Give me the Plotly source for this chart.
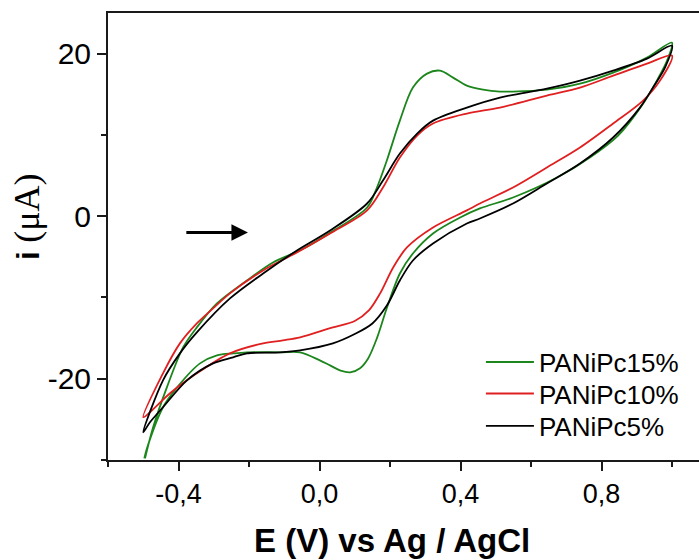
import plotly.graph_objects as go

# ---------------- data ----------------
# PANiPc15% (green): forward scan then reverse scan
E_15 = [-0.495, -0.472, -0.433, -0.387, -0.348, -0.291, -0.206, -0.132, -0.055, 0.035,
        0.135, 0.163, 0.191, 0.228, 0.265, 0.305, 0.342, 0.379, 0.418, 0.464,
        0.512, 0.549, 0.645, 0.739, 0.833, 0.929, 1.0,
        0.986, 0.957, 0.918, 0.847, 0.767, 0.674, 0.549, 0.455, 0.399, 0.322,
        0.265, 0.228, 0.191, 0.163, 0.138, 0.115, 0.087, 0.060, 0.030, 0.001,
        -0.055, -0.112, -0.206, -0.245, -0.291, -0.339, -0.404, -0.444, -0.489, -0.497]
I_15 = [-29.8, -25.97, -21.06, -16.14, -13.68, -10.73, -7.91, -5.69, -4.2, -1.9,
        1.07, 3.53, 6.85, 11.76, 15.82, 17.54, 17.91, 17.05, 16.06, 15.57,
        15.33, 15.33, 15.57, 16.30, 17.66, 19.51, 21.35,
        19.14, 16.68, 13.85, 9.92, 7.22, 4.76, 2.30, 0.95, -0.16, -2.13,
        -4.59, -7.05, -11.3, -15.0, -17.5, -18.7, -19.21, -19.0, -18.36, -17.74,
        -16.75, -16.75, -16.75, -16.88, -17.12, -18.11, -21.06, -23.51, -28.5, -29.8]

# PANiPc10% (red)
E_10 = [-0.50, -0.444, -0.396, -0.348, -0.302, -0.254, -0.160, -0.064, 0.030, 0.135,
        0.180, 0.228, 0.277, 0.322, 0.418, 0.512, 0.645, 0.739, 0.833, 0.929, 1.0,
        0.966, 0.918, 0.833, 0.739, 0.645, 0.549, 0.455, 0.418, 0.322, 0.248,
        0.209, 0.172, 0.140, 0.100, 0.038, -0.055, -0.104, -0.160, -0.254, -0.348, -0.424,
        -0.475, -0.50]
I_10 = [-24.74, -19.34, -15.65, -13.19, -11.35, -9.50, -6.68, -4.46, -2.13, 0.71,
        3.53, 7.22, 9.92, 11.40, 12.62, 13.36, 14.84, 15.82, 17.29, 18.77, 19.75,
        16.68, 14.22, 11.40, 8.45, 5.99, 3.53, 1.56, 0.71, -1.39, -3.85,
        -6.31, -9.50, -11.6, -12.9, -13.68, -14.91, -15.28, -15.65, -16.88, -19.34, -21.79,
        -23.88, -24.74]

# PANiPc5% (black)
E_5 = [-0.50, -0.444, -0.396, -0.348, -0.254, -0.160, -0.064, 0.030, 0.135, 0.180,
       0.228, 0.277, 0.322, 0.418, 0.512, 0.645, 0.739, 0.833, 0.929, 1.0,
       0.980, 0.946, 0.909, 0.833, 0.739, 0.645, 0.549, 0.455, 0.418, 0.322,
       0.265, 0.228, 0.191, 0.150, 0.100, 0.038, -0.055, -0.112, -0.206, -0.245,
       -0.302, -0.376, -0.444, -0.481, -0.50]
I_5 = [-26.59, -20.20, -16.88, -14.30, -10.12, -7.05, -4.22, -1.76, 1.56, 4.39,
       7.71, 10.17, 11.76, 13.36, 14.59, 15.70, 16.68, 17.91, 19.39, 20.98,
       18.28, 15.82, 13.36, 9.68, 6.48, 4.02, 1.56, -0.28, -0.90, -3.36,
       -5.45, -7.91, -11.0, -13.2, -14.5, -15.65, -16.51, -16.75, -16.88, -17.37,
       -18.11, -20.20, -23.51, -25.36, -26.59]

series_names = ["PANiPc15%", "PANiPc10%", "PANiPc5%"]
series_colors = ["#1c861c", "#e02020", "#000000"]

x_tickvals = [-0.4, 0.0, 0.4, 0.8]
x_ticktext = ["-0,4", "0,0", "0,4", "0,8"]
x_minor = [-0.6, -0.2, 0.2, 0.6, 1.0]
y_tickvals = [-20, 0, 20]
y_ticktext = ["-20", "0", "20"]
y_minor = [-30, -10, 10]

arrow_E = [-0.382, -0.203]   # tail, head
arrow_I = -2.0

# ---------------- figure ----------------
FONT = "Liberation Sans, Arial, sans-serif"
AX = "#1a1a1a"

legend_ids = ["legend", "legend2", "legend3"]
legend_rows_y = [0.2190, 0.1485, 0.0761]

fig = go.Figure()
for E, I, name, col, lg in zip([E_15, E_10, E_5], [I_15, I_10, I_5],
                               series_names, series_colors, legend_ids):
    fig.add_trace(go.Scatter(x=E, y=I, mode="lines", name=name, legend=lg,
                             line=dict(color=col, width=1.8, shape="spline", smoothing=0.9)))

leg_common = dict(x=0.631, xanchor="left", yanchor="middle",
                  font=dict(size=26, family=FONT, color="black"),
                  bgcolor="rgba(0,0,0,0)", itemwidth=48)

fig.update_layout(
    width=699, height=560,
    margin=dict(l=108, r=0, t=13, b=100),
    paper_bgcolor="white", plot_bgcolor="white",
    font=dict(family=FONT, color="black"),
    showlegend=True,
    legend=dict(y=legend_rows_y[0], **leg_common),
    legend2=dict(y=legend_rows_y[1], **leg_common),
    legend3=dict(y=legend_rows_y[2], **leg_common),
)
fig.update_xaxes(range=[-0.6, 1.0766], showgrid=False, zeroline=False,
                 showline=True, linecolor=AX, linewidth=2, mirror=True,
                 ticks="outside", ticklen=9, tickwidth=2, tickcolor=AX,
                 tickvals=x_tickvals, ticktext=x_ticktext,
                 tickfont=dict(size=27, family=FONT, color="black"),
                 minor=dict(tickvals=x_minor, ticks="outside", ticklen=5, tickwidth=2, tickcolor=AX))
fig.update_yaxes(range=[-30, 25], showgrid=False, zeroline=False,
                 showline=True, linecolor=AX, linewidth=2, mirror=False,
                 ticks="outside", ticklen=9, tickwidth=2, tickcolor=AX,
                 tickvals=y_tickvals, ticktext=y_ticktext,
                 tickfont=dict(size=30, family=FONT, color="black"),
                 minor=dict(tickvals=y_minor, ticks="outside", ticklen=5, tickwidth=2, tickcolor=AX))

# axis titles
fig.add_annotation(xref="paper", yref="paper", x=0.4797, y=-0.179,
                   text="<b>E (V) vs Ag / AgCl</b>", showarrow=False,
                   xanchor="center", yanchor="middle",
                   font=dict(size=33, family=FONT, color="black"))
fig.add_annotation(xref="paper", yref="paper", x=-0.137, y=0.5436,
                   text="<b>i</b> <span style='font-family:Liberation Serif, Times New Roman, serif; font-weight:normal; font-size:36px'>(μA)</span>",
                   textangle=-90, showarrow=False, xanchor="center", yanchor="middle",
                   font=dict(size=31, family=FONT, color="black"))

# scan-direction arrow
fig.add_annotation(x=arrow_E[1], y=arrow_I, ax=arrow_E[0], ay=arrow_I,
                   xref="x", yref="y", axref="x", ayref="y",
                   text="", showarrow=True, arrowhead=2, arrowsize=1.1,
                   arrowwidth=3, arrowcolor="black")

fig.write_html("out.html")
